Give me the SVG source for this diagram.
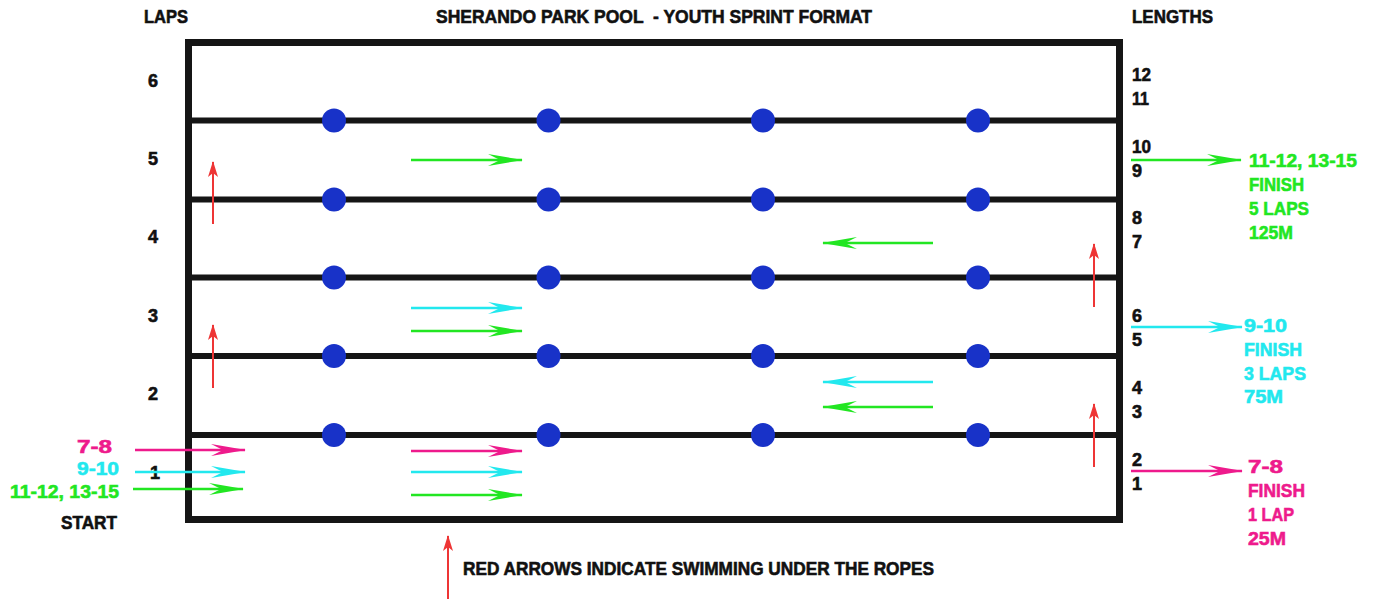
<svg xmlns="http://www.w3.org/2000/svg" width="1377" height="599" viewBox="0 0 1377 599">
<style>
text{font-family:"Liberation Sans",Arial,sans-serif;font-weight:bold;font-size:18px;fill:#111;stroke:#111;stroke-width:0.6}
.big{font-size:19px}
.g{fill:#22e622;stroke:#22e622}.c{fill:#22e8ee;stroke:#22e8ee}.p{fill:#ee1a8c;stroke:#ee1a8c}
.rope{stroke:#151515;stroke-width:6}
.dot{fill:#1832c8}
.ag{stroke:#22e622;stroke-width:2.5;fill:none;marker-end:url(#hg)}
.ac{stroke:#22e8ee;stroke-width:2.5;fill:none;marker-end:url(#hc)}
.ap{stroke:#ee1a8c;stroke-width:2.5;fill:none;marker-end:url(#hp)}
.ar{stroke:#ee3535;stroke-width:2;fill:none;marker-end:url(#hr)}
</style>
<defs>
<marker id="hg" viewBox="0 0 35 12" refX="34" refY="6" markerWidth="35" markerHeight="12" markerUnits="userSpaceOnUse" orient="auto"><path d="M0,0 L35,6 L0,12 L12,6 z" fill="#22e622"/></marker>
<marker id="hc" viewBox="0 0 35 12" refX="34" refY="6" markerWidth="35" markerHeight="12" markerUnits="userSpaceOnUse" orient="auto"><path d="M0,0 L35,6 L0,12 L12,6 z" fill="#22e8ee"/></marker>
<marker id="hp" viewBox="0 0 35 12" refX="34" refY="6" markerWidth="35" markerHeight="12" markerUnits="userSpaceOnUse" orient="auto"><path d="M0,0 L35,6 L0,12 L12,6 z" fill="#ee1a8c"/></marker>
<marker id="hr" viewBox="0 0 16 10" refX="15" refY="5" markerWidth="16" markerHeight="10" markerUnits="userSpaceOnUse" orient="auto"><path d="M0,0 L16,5 L0,10 L4,5 z" fill="#ee3535"/></marker>
</defs>
<rect width="1377" height="599" fill="#fff"/>

<g id="headings">
<text x="144" y="23" textLength="44" lengthAdjust="spacingAndGlyphs">LAPS</text>
<text class="big" x="436" y="23" textLength="436" lengthAdjust="spacingAndGlyphs" xml:space="preserve">SHERANDO PARK POOL  - YOUTH SPRINT FORMAT</text>
<text x="1132" y="23" textLength="81" lengthAdjust="spacingAndGlyphs">LENGTHS</text>
</g>

<g id="pool">
<rect x="188.5" y="42.5" width="931" height="477" fill="none" stroke="#151515" stroke-width="7"/>
</g>

<g id="ropes">
<line class="rope" x1="192" y1="120.5" x2="1116" y2="120.5"/>
<line class="rope" x1="192" y1="199.5" x2="1116" y2="199.5"/>
<line class="rope" x1="192" y1="277.5" x2="1116" y2="277.5"/>
<line class="rope" x1="192" y1="356" x2="1116" y2="356"/>
<line class="rope" x1="192" y1="435" x2="1116" y2="435"/>
</g>

<g id="floats">
<circle class="dot" cx="334" cy="120.5" r="12"/><circle class="dot" cx="548.5" cy="120.5" r="12"/><circle class="dot" cx="763" cy="120.5" r="12"/><circle class="dot" cx="978" cy="120.5" r="12"/>
<circle class="dot" cx="334" cy="199.5" r="12"/><circle class="dot" cx="548.5" cy="199.5" r="12"/><circle class="dot" cx="763" cy="199.5" r="12"/><circle class="dot" cx="978" cy="199.5" r="12"/>
<circle class="dot" cx="334" cy="277.5" r="12"/><circle class="dot" cx="548.5" cy="277.5" r="12"/><circle class="dot" cx="763" cy="277.5" r="12"/><circle class="dot" cx="978" cy="277.5" r="12"/>
<circle class="dot" cx="334" cy="356" r="12"/><circle class="dot" cx="548.5" cy="356" r="12"/><circle class="dot" cx="763" cy="356" r="12"/><circle class="dot" cx="978" cy="356" r="12"/>
<circle class="dot" cx="334" cy="435" r="12"/><circle class="dot" cx="548.5" cy="435" r="12"/><circle class="dot" cx="763" cy="435" r="12"/><circle class="dot" cx="978" cy="435" r="12"/>
</g>

<g id="laps">
<text x="148" y="87">6</text>
<text x="148" y="165">5</text>
<text x="148" y="243">4</text>
<text x="148" y="322">3</text>
<text x="148" y="400">2</text>
<text x="150" y="479">1</text>
</g>

<g id="lengths">
<text x="1132" y="81" textLength="19" lengthAdjust="spacingAndGlyphs">12</text>
<text x="1132" y="105" textLength="17" lengthAdjust="spacingAndGlyphs">11</text>
<text x="1132" y="153" textLength="19" lengthAdjust="spacingAndGlyphs">10</text>
<text x="1132" y="177">9</text>
<text x="1132" y="224">8</text>
<text x="1132" y="248">7</text>
<text x="1132" y="322">6</text>
<text x="1132" y="346">5</text>
<text x="1132" y="394">4</text>
<text x="1132" y="418">3</text>
<text x="1132" y="466">2</text>
<text x="1132" y="490">1</text>
</g>

<g id="start-labels">
<text class="p big" x="77" y="453" textLength="35" lengthAdjust="spacingAndGlyphs">7-8</text>
<text class="c big" x="77" y="475" textLength="42" lengthAdjust="spacingAndGlyphs">9-10</text>
<text class="g big" x="10" y="498" textLength="109" lengthAdjust="spacingAndGlyphs">11-12, 13-15</text>
<text x="61" y="529" textLength="56" lengthAdjust="spacingAndGlyphs">START</text>
</g>

<g id="finish-green">
<text class="g big" x="1249" y="167" textLength="108" lengthAdjust="spacingAndGlyphs">11-12, 13-15</text>
<text class="g big" x="1249" y="191" textLength="55" lengthAdjust="spacingAndGlyphs">FINISH</text>
<text class="g big" x="1249" y="215" textLength="60" lengthAdjust="spacingAndGlyphs">5 LAPS</text>
<text class="g big" x="1249" y="239" textLength="44" lengthAdjust="spacingAndGlyphs">125M</text>
</g>

<g id="finish-cyan">
<text class="c big" x="1244" y="332" textLength="43" lengthAdjust="spacingAndGlyphs">9-10</text>
<text class="c big" x="1244" y="356" textLength="58" lengthAdjust="spacingAndGlyphs">FINISH</text>
<text class="c big" x="1244" y="380" textLength="62" lengthAdjust="spacingAndGlyphs">3 LAPS</text>
<text class="c big" x="1244" y="403" textLength="39" lengthAdjust="spacingAndGlyphs">75M</text>
</g>

<g id="finish-pink">
<text class="p big" x="1248" y="473" textLength="35" lengthAdjust="spacingAndGlyphs">7-8</text>
<text class="p big" x="1248" y="497" textLength="57" lengthAdjust="spacingAndGlyphs">FINISH</text>
<text class="p big" x="1248" y="521" textLength="46" lengthAdjust="spacingAndGlyphs">1 LAP</text>
<text class="p big" x="1248" y="545" textLength="38" lengthAdjust="spacingAndGlyphs">25M</text>
</g>

<g id="legend">
<text x="463" y="575" textLength="471" lengthAdjust="spacingAndGlyphs">RED ARROWS INDICATE SWIMMING UNDER THE ROPES</text>
</g>

<g id="connectors">
<line class="ap" x1="135" y1="450" x2="245" y2="450"/>
<line class="ac" x1="135" y1="472" x2="245" y2="472"/>
<line class="ag" x1="133" y1="489" x2="243" y2="489"/>

<line class="ap" x1="411" y1="451" x2="522" y2="451"/>
<line class="ac" x1="411" y1="472" x2="522" y2="472"/>
<line class="ag" x1="411" y1="495" x2="522" y2="495"/>

<line class="ac" x1="411" y1="308" x2="522" y2="308"/>
<line class="ag" x1="411" y1="331" x2="522" y2="331"/>
<line class="ag" x1="411" y1="160" x2="522" y2="160"/>

<line class="ag" x1="933" y1="243" x2="823" y2="243"/>
<line class="ac" x1="933" y1="382" x2="823" y2="382"/>
<line class="ag" x1="933" y1="407" x2="823" y2="407"/>

<line class="ag" x1="1131" y1="160" x2="1241" y2="160"/>
<line class="ac" x1="1131" y1="327" x2="1242" y2="327"/>
<line class="ap" x1="1131" y1="471" x2="1242" y2="471"/>

<line class="ar" x1="213" y1="224" x2="213" y2="162"/>
<line class="ar" x1="213" y1="388" x2="213" y2="325"/>
<line class="ar" x1="1094" y1="307" x2="1094" y2="244"/>
<line class="ar" x1="1094" y1="467" x2="1094" y2="404"/>
<line class="ar" x1="448" y1="599" x2="448" y2="536"/>
</g>
</svg>
